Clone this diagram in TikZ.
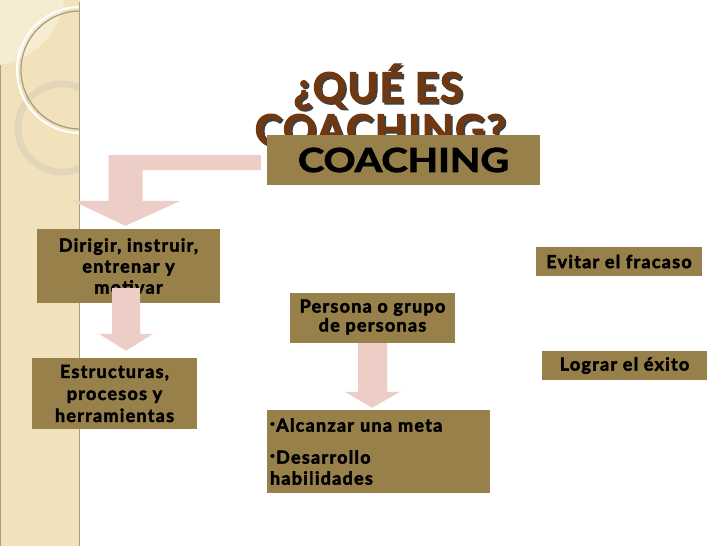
\documentclass[tikz,border=0pt]{standalone}
\usepackage{fontspec}
\setmainfont{Lato}[BoldFeatures={FakeBold=2.5}]
\newfontfamily\boxfont{Lato}[LetterSpace=7, BoldFeatures={FakeBold=2.5}]
\newfontfamily\titlefont{Lato}[LetterSpace=4, BoldFeatures={FakeBold=2.5}]
\usetikzlibrary{calc}
\definecolor{boxfill}{RGB}{152,128,74}
\definecolor{arrowpink}{RGB}{236,206,199}
\definecolor{band}{RGB}{241,226,188}
\definecolor{bandlight}{RGB}{246,236,210}
\definecolor{bandline}{RGB}{170,158,128}
\definecolor{ringc}{RGB}{226,214,185}
\definecolor{titlebrown}{RGB}{112,56,16}
\newcommand{\vblockarrow}[5]{%
  \fill[arrowpink] let \p1=(#1), \p2=(#2) in
    (\x1-#3pt,\y1) -- (\x1-#3pt,\y2+#5pt) -- (\x1-#4pt,\y2+#5pt) -- (\x2,\y2)
    -- (\x1+#4pt,\y2+#5pt) -- (\x1+#3pt,\y2+#5pt) -- (\x1+#3pt,\y1) -- cycle;}
\begin{document}
\begin{tikzpicture}[x=1pt,y=-1pt,
  box/.style={fill=boxfill, inner sep=0pt, text=black, align=center,
    font=\boxfont\bfseries\fontsize{18}{21}\selectfont},
  titletext/.style={font=\titlefont\bfseries\fontsize{41}{44}\selectfont, anchor=base, inner sep=0pt}]
\useasboundingbox (0,0) rectangle (728,546);
\fill[white] (0,0) rectangle (728,546);
% left band
\fill[band] (0,0) rectangle (80,546);
\begin{scope}
  \clip (0,0) rectangle (79,546);
  \fill[bandlight] (-10,-10) circle[radius=75];
  \draw[ringc, line width=7] (62,128) circle[radius=44];
  \draw[white, line width=2] (80,70) circle[radius=63];
  \draw[bandline, line width=1.3] (80,70) circle[radius=59];
\end{scope}
\draw[bandline, line width=1.5] (79.5,2) -- (79.5,546);
\draw[bandline, line width=1] (0.5,65) -- (0.5,546);
% title
\node[titletext, text=black!75] at (380,104) {¿QUÉ ES};
\node[titletext, text=titlebrown] (t1) at (378,102) {¿QUÉ ES};
\node[titletext, text=black!75] at (382,146) {COACHING?};
\node[titletext, text=titlebrown] (t2) at (380,144) {COACHING?};
% boxes
\node[box, minimum width=273, minimum height=50, font=\bfseries\fontsize{33}{36}\selectfont] (coach) at (403.5,160) {\raisebox{-2pt}{\scalebox{1.2}[1]{COACHING}}};
\node[box, minimum width=183, minimum height=74] (dir) at (128.5,266) {Dirigir, instruir,\\entrenar y\\motivar};
\node[box, minimum width=165, minimum height=71, font=\boxfont\bfseries\fontsize{18}{22}\selectfont] (est) at (114.5,393.5) {Estructuras,\\procesos y\\herramientas};
\node[box, minimum width=165, minimum height=50, font=\boxfont\bfseries\fontsize{18}{20}\selectfont] (pers) at (372.5,318) {\raisebox{-3pt}{\begin{tabular}{@{}c@{}}Persona o grupo\\[-1pt]de personas\end{tabular}}};
\node[box, minimum width=223, minimum height=83, align=left, text width=217] (alc) at (378.5,451.5)
  {\fontsize{18}{20}\selectfont\raisebox{0.25ex}{\textbf{·}}Alcanzar una meta\\[12pt]\raisebox{0.25ex}{\textbf{·}}Desarrollo\\habilidades};
\node[box, minimum width=166, minimum height=29] (evi) at (619,261.5) {Evitar el fracaso};
\node[box, minimum width=165, minimum height=29] (log) at (624.5,365.5) {Lograr el éxito};
% arrows
\coordinate (a1s) at ($(coach.west)+(-6,-5)$);
\coordinate (a1t) at ($(dir.north)+(-3,-3)$);
\fill[arrowpink] let \p1=(a1s), \p2=(a1t) in
  (\x1,\y1) -- (\x2-17pt,\y1) -- (\x2-17pt,\y2+25pt) -- (\x2-53pt,\y2+25pt) -- (\x2,\y2)
  -- (\x2+55pt,\y2+25pt) -- (\x2+17pt,\y2+25pt) -- (\x2+17pt,\y1-15pt) -- (\x1,\y1-15pt) -- cycle;
\coordinate (a2s) at ($(dir.south)+(-2.5,-15)$);
\coordinate (a2t) at ($(est.north)+(11.5,-7)$);
\vblockarrow{a2s}{a2t}{14}{27}{17}
\coordinate (a3s) at ($(pers.south)+(0,0)$);
\coordinate (a3t) at ($(alc.north)+(-6.5,-2)$);
\vblockarrow{a3s}{a3t}{14.5}{27.5}{16}
\end{tikzpicture}
\end{document}
